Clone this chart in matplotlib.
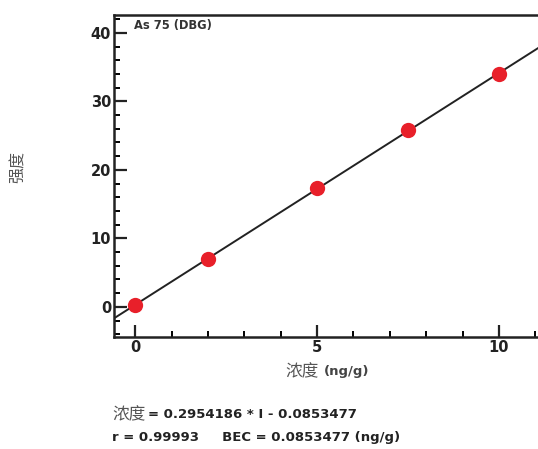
import numpy as np
import matplotlib.pyplot as plt
from matplotlib.ticker import MultipleLocator

plt.rcParams['font.family'] = ['DejaVu Sans', 'Noto Sans CJK SC']

# calibration data
conc = [0, 2, 5, 7.5, 10]
intensity = [0.25, 6.95, 17.35, 25.85, 34.0]
slope = 0.2954186
intercept = -0.0853477
r_value = 0.99993
bec = 0.0853477

CJK = 'Noto Sans CJK SC'
W = 538
H = 449

fig = plt.figure(figsize=(5.38, 4.49), dpi=100)
ax = fig.add_axes([114 / W, 1 - 337 / H, 1 - 114 / W, (337 - 15) / H])

# fitted line: conc = slope * I + intercept
xl = np.array([-0.6, 11.2])
ax.plot(xl, (xl - intercept) / slope, color='#222222', linewidth=1.4, zorder=2)
ax.plot(conc, intensity, 'o', color='#e8202a', markersize=11, markeredgewidth=0, zorder=3)

ax.set_xlim(-0.58, 11.07)
ax.set_ylim(-4.4, 42.6)
ax.xaxis.set_major_locator(MultipleLocator(5))
ax.xaxis.set_minor_locator(MultipleLocator(1))
ax.yaxis.set_major_locator(MultipleLocator(10))
ax.yaxis.set_minor_locator(MultipleLocator(2))
ax.tick_params(which='major', direction='in', length=9, width=1.6, labelsize=10.5, pad=2, colors='#222222')
ax.tick_params(which='minor', direction='in', length=4.5, width=1.4)
for lab in ax.get_xticklabels() + ax.get_yticklabels():
    lab.set_fontweight('bold')
ax.spines['right'].set_visible(False)
for s in ['left', 'bottom', 'top']:
    ax.spines[s].set_linewidth(1.8)
    ax.spines[s].set_color('#222222')

fig.text(134 / W, 1 - 26 / H, 'As 75 (DBG)', fontsize=8.3,
         fontweight='bold', va='center', ha='left', color='#333333')

# x label
t = fig.text(285 / W, 1 - 372 / H, '浓度', ha='left', va='center', fontsize=12,
             family=CJK, color='#555555')
ax.annotate('(ng/g)', xy=(1, 0.5), xycoords=t, xytext=(4, 0), textcoords='offset points',
            ha='left', va='center', fontsize=9.5, fontweight='bold', color='#444444',
            annotation_clip=False)

# y label
fig.text(18 / W, 1 - 167 / H, '强度', ha='center', va='center', rotation=90,
         fontsize=11.5, family=CJK, color='#555555')

# regression summary
t1 = fig.text(112 / W, 1 - 415 / H, '浓度', ha='left', va='center', fontsize=12,
              family=CJK, color='#555555')
ax.annotate(f'= {slope:.7f} * I - {abs(intercept):.7f}', xy=(1, 0.5), xycoords=t1,
            xytext=(2, 0), textcoords='offset points', ha='left', va='center',
            fontsize=9.5, fontweight='bold', color='#222222', annotation_clip=False)
fig.text(112 / W, 1 - 438 / H, f'r = {r_value}     BEC = {bec:.7f} (ng/g)',
         ha='left', va='center', fontsize=9.5, fontweight='bold', color='#222222')

fig.savefig('out.png', dpi=100)
